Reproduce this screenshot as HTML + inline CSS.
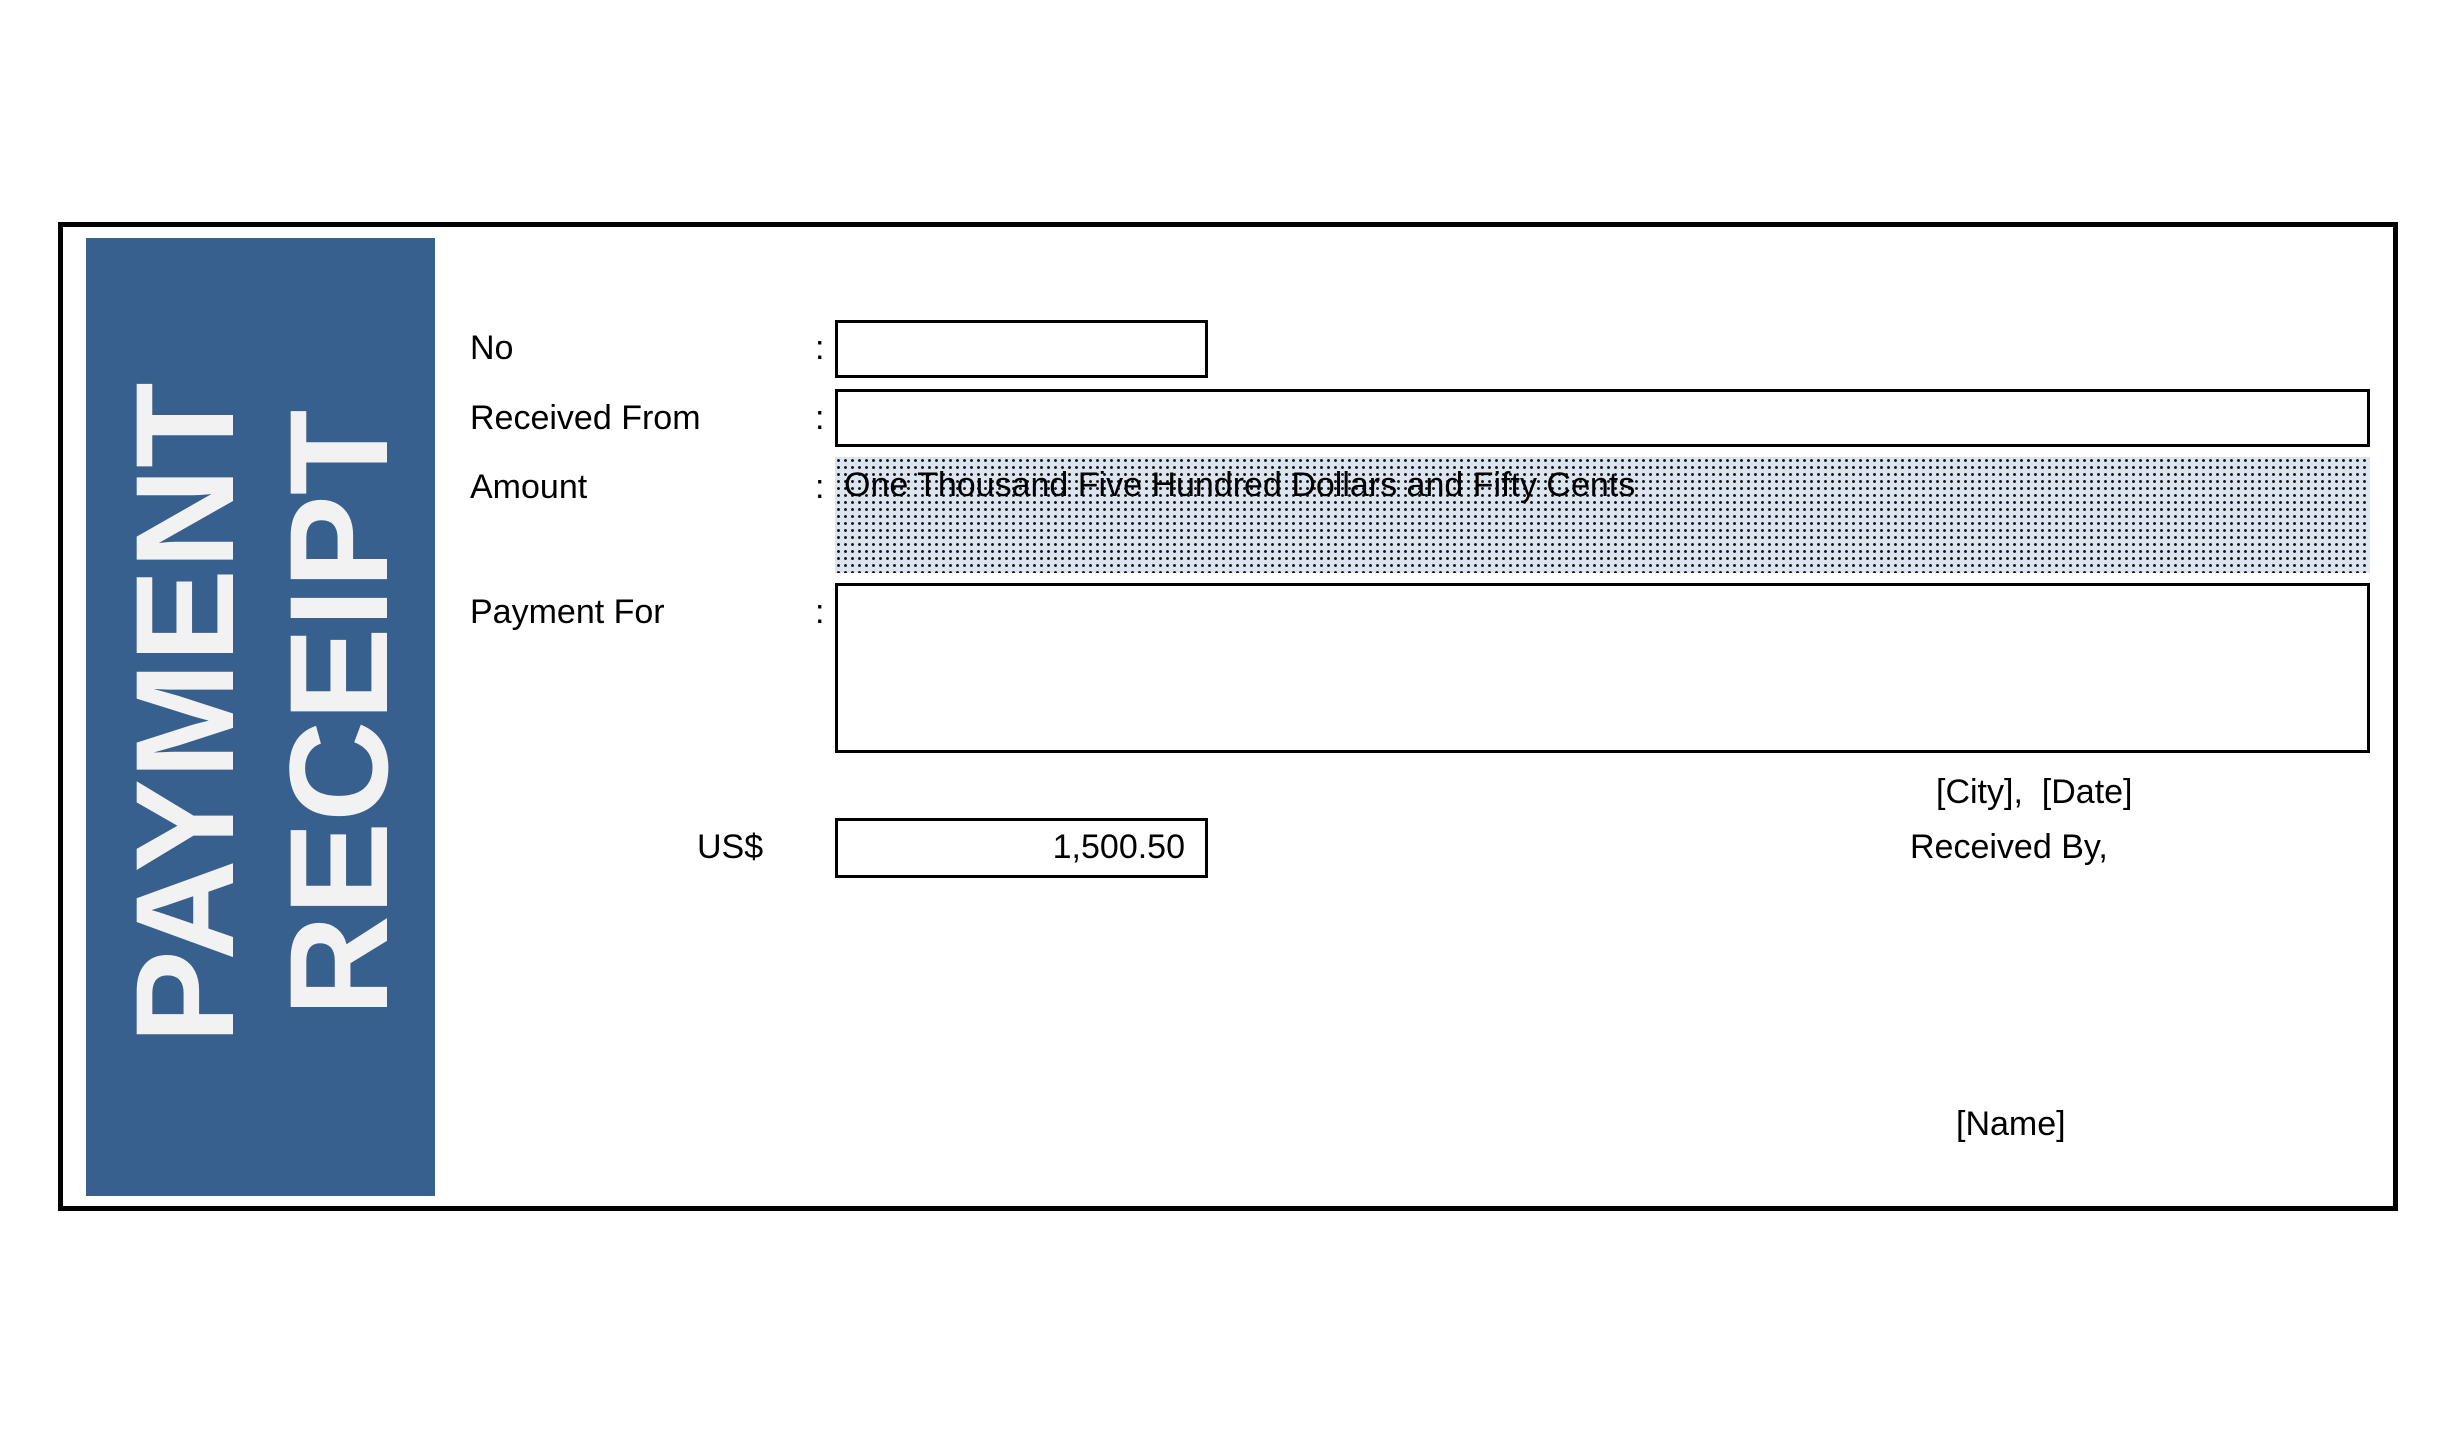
<!DOCTYPE html>
<html><head><meta charset="utf-8"><style>
html,body{margin:0;padding:0;background:#fff;}
body{width:2455px;height:1434px;position:relative;overflow:hidden;font-family:"Liberation Sans",Arial,sans-serif;color:#000;}
.a{position:absolute;}
.t{position:absolute;font-size:34px;line-height:34px;white-space:nowrap;transform:translateY(-50%);}
.box{position:absolute;border:3px solid #000;box-sizing:border-box;background:#fff;}
.rot{position:absolute;font-weight:bold;color:#f2f2f2;font-size:140px;line-height:140px;white-space:nowrap;transform:translate(-50%,-50%) rotate(-90deg);}
</style></head><body>
<div class="a" style="left:58px;top:222px;width:2340px;height:989px;border:5px solid #000;box-sizing:border-box;"></div>
<div class="a" style="left:86px;top:238px;width:349px;height:958px;background:#38608f;"></div>
<div class="rot" style="left:185px;top:713px;">PAYMENT</div>
<div class="rot" style="left:339px;top:713px;">RECEIPT</div>

<div class="t" style="left:470px;top:348px;">No</div>
<div class="t" style="left:470px;top:418px;">Received From</div>
<div class="t" style="left:470px;top:487px;">Amount</div>
<div class="t" style="left:470px;top:612px;">Payment For</div>
<div class="t" style="left:815px;top:348px;">:</div>
<div class="t" style="left:815px;top:418px;">:</div>
<div class="t" style="left:815px;top:487px;">:</div>
<div class="t" style="left:815px;top:612px;">:</div>

<div class="box" style="left:835px;top:320px;width:373px;height:58px;"></div>
<div class="box" style="left:835px;top:389px;width:1535px;height:58px;"></div>
<div class="a" style="left:835px;top:457px;width:1535px;height:116px;background-color:#dce4ef;background-image:radial-gradient(circle,#111 1.2px,transparent 1.7px);background-size:7px 7px;"></div>
<div class="t" style="left:844px;top:485px;">One Thousand Five Hundred Dollars and Fifty Cents</div>
<div class="box" style="left:835px;top:583px;width:1535px;height:170px;"></div>

<div class="t" style="left:697px;top:847px;">US$</div>
<div class="box" style="left:835px;top:818px;width:373px;height:60px;"></div>
<div class="t" style="left:835px;top:847px;width:350px;text-align:right;">1,500.50</div>

<div class="t" style="left:1936px;top:792px;">[City],&nbsp; [Date]</div>
<div class="t" style="left:1910px;top:847px;">Received By,</div>
<div class="t" style="left:1956px;top:1124px;">[Name]</div>
</body></html>
